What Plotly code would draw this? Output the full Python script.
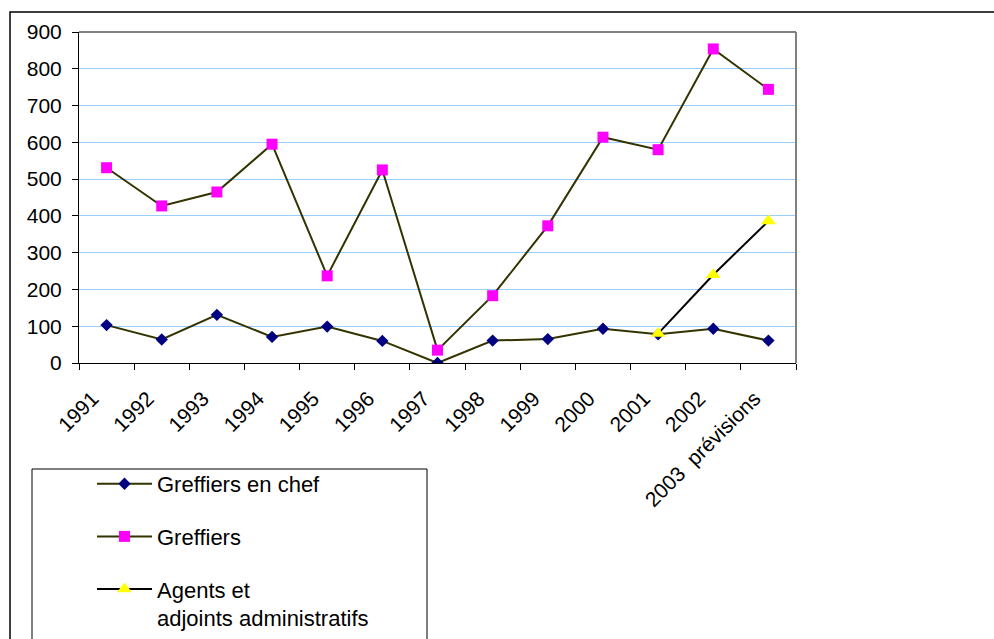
import plotly.graph_objects as go

categories = ["1991", "1992", "1993", "1994", "1995", "1996", "1997", "1998",
              "1999", "2000", "2001", "2002", "2003\u00a0\u00a0prévisions"]
greffiers_en_chef = [103, 64, 131, 71, 99, 60, 0, 61, 65, 93, 78, 93, 61]
greffiers = [531, 427, 465, 595, 237, 525, 35, 183, 373, 614, 580, 854, 744]
agents = [None, None, None, None, None, None, None, None, None, None, 80, 240, 386]

FONT = "Arial, Liberation Sans, sans-serif"

W, H = 994, 639
L, R, T, B = 79, 796, 32, 363
pw, ph = R - L, B - T

def px(x):
    return (x - L) / pw

def py(y):
    return (B - y) / ph

fig = go.Figure()
fig.add_trace(go.Scatter(
    x=categories, y=greffiers_en_chef, mode="lines+markers",
    name="Greffiers en chef", legendgroup="a",
    line=dict(color="#333300", width=2),
    marker=dict(symbol="diamond", size=9.5, color="#000080"),
))
fig.add_trace(go.Scatter(
    x=categories, y=greffiers, mode="lines+markers",
    name="Greffiers", legendgroup="b",
    line=dict(color="#333300", width=2),
    marker=dict(symbol="square", size=11, color="#FF00FF"),
))
fig.add_trace(go.Scatter(
    x=categories, y=agents, mode="lines+markers",
    name="Agents et<br>adjoints administratifs", legendgroup="c",
    line=dict(color="#000000", width=2),
    marker=dict(symbol="triangle-up", size=13, color="#FFFF00"),
    connectgaps=False,
))

shapes = [
    # outer chart frame
    dict(type="rect", xref="paper", yref="paper",
         x0=px(10), x1=px(1010), y0=py(660), y1=py(12),
         line=dict(color="#000000", width=1.5), layer="below"),
    # legend frame
    dict(type="rect", xref="paper", yref="paper",
         x0=px(32), x1=px(427), y0=py(660), y1=py(469),
         line=dict(color="#000000", width=1), layer="below"),
    # plot area top / right border
    dict(type="line", xref="paper", yref="paper", x0=0, x1=1, y0=1, y1=1,
         line=dict(color="#808080", width=2)),
    dict(type="line", xref="paper", yref="paper", x0=1, x1=1, y0=0, y1=1,
         line=dict(color="#808080", width=2)),
]

fig.update_layout(
    width=W, height=H,
    margin=dict(l=L, r=W - R, t=T, b=H - B, autoexpand=False),
    paper_bgcolor="white", plot_bgcolor="white",
    font=dict(family=FONT, size=21, color="#000000"),
    showlegend=True,
    legend=dict(
        x=px(92), y=py(463), xanchor="left", yanchor="top",
        bgcolor="rgba(0,0,0,0)", borderwidth=0,
        font=dict(family=FONT, size=22, color="#000000"),
        tracegroupgap=21, valign="top", itemwidth=55,
    ),
    shapes=shapes,
    xaxis=dict(
        type="category", range=[-0.5, 12.5], automargin=False,
        showline=True, linecolor="#000000", linewidth=1,
        ticks="outside", tickson="boundaries", ticklen=6, tickcolor="#000000",
        tickangle=-45, showgrid=False, zeroline=False,
        ticklabelstandoff=14, ticklabelshift=-14,
        tickfont=dict(family=FONT, size=21, color="#000000"),
    ),
    yaxis=dict(
        range=[0, 900], dtick=100, tick0=0, automargin=False,
        showline=True, linecolor="#000000", linewidth=1,
        ticks="outside", ticklen=6, tickcolor="#000000",
        showgrid=True, gridcolor="#99CCFF", gridwidth=1,
        zeroline=False, ticklabelstandoff=6,
        tickfont=dict(family=FONT, size=21, color="#000000"),
    ),
)

fig.write_html("out.html")
